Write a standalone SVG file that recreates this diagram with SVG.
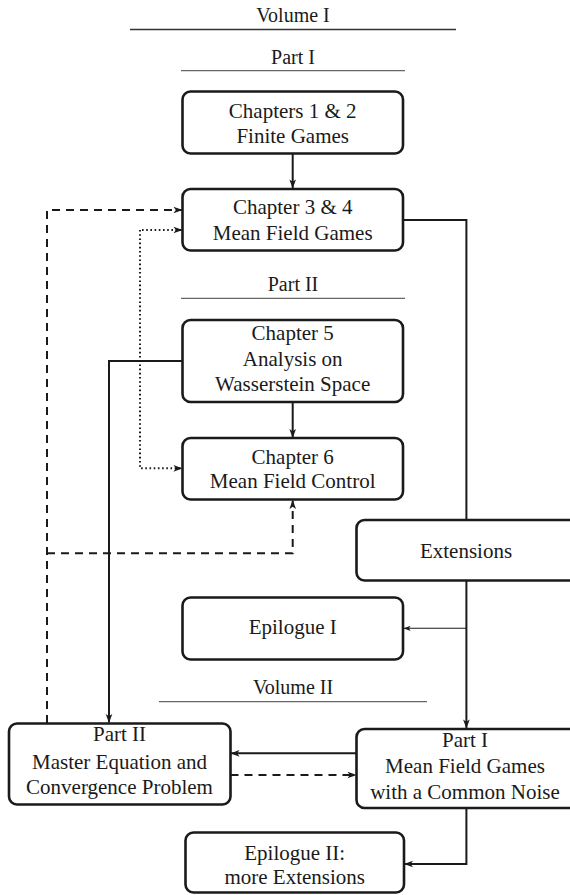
<svg xmlns="http://www.w3.org/2000/svg" width="570" height="895" viewBox="0 0 570 895">
<style>
  text { font-family: 'Liberation Serif', 'DejaVu Serif', serif; font-size: 21px; fill: #1a1a1a; text-anchor: middle; }
  .hdr { font-size: 20px; }
  .box { fill: #fff; stroke: #1a1a1a; stroke-width: 2.6; }
  .c { fill: none; stroke: #1a1a1a; stroke-width: 2; }
  .thin { fill: none; stroke: #1a1a1a; stroke-width: 1.1; }
  .dash { stroke-dasharray: 8 6; }
  .dot { stroke-dasharray: 1.6 2.6; }
  .rule { stroke: #333; stroke-width: 1.3; }
  .rule2 { stroke: #666; stroke-width: 1.3; }
</style>
<defs>
  <marker id="ah" viewBox="0 0 10 8" refX="9.5" refY="4" markerWidth="9" markerHeight="7.2" markerUnits="userSpaceOnUse" orient="auto">
    <path d="M0,0.3 L10,4 L0,7.7 L2.6,4 Z" fill="#1a1a1a"/>
  </marker>
  <marker id="ahs" viewBox="0 0 10 8" refX="9.5" refY="4" markerWidth="7" markerHeight="5.6" markerUnits="userSpaceOnUse" orient="auto">
    <path d="M0,0.3 L10,4 L0,7.7 L2.6,4 Z" fill="#1a1a1a"/>
  </marker>
</defs>

<g id="headers" font-family="Liberation Serif, serif">
  <text class="hdr" x="293" y="22">Volume I</text>
  <line class="rule" x1="130" y1="29.5" x2="456" y2="29.5"/>
  <text class="hdr" x="293" y="63.5">Part I</text>
  <line class="rule2" x1="181" y1="70.7" x2="405" y2="70.7"/>
  <text class="hdr" x="293" y="291">Part II</text>
  <line class="rule2" x1="181" y1="298.3" x2="405" y2="298.3"/>
  <text class="hdr" x="293" y="693.5">Volume II</text>
  <line class="rule2" x1="159" y1="701.7" x2="427" y2="701.7"/>
</g>

<g id="connectors">
  <line class="c" x1="292.7" y1="154" x2="292.7" y2="188" marker-end="url(#ah)"/>
  <polyline class="c" points="403,220 466.4,220 466.4,520"/>
  <line class="c" x1="466.4" y1="580.5" x2="466.4" y2="728" marker-end="url(#ah)"/>
  <line class="thin" x1="466.4" y1="628.3" x2="404" y2="628.3" marker-end="url(#ahs)"/>
  <line class="c" x1="292.7" y1="403" x2="292.7" y2="437.5" marker-end="url(#ah)"/>
  <polyline class="c" points="182.5,361 109,361 109,722.5" marker-end="url(#ah)"/>
  <polyline class="c dash" points="47,723 47,210 182,210" marker-end="url(#ah)"/>
  <polyline class="c dash" points="47,553.3 292.7,553.3 292.7,500.5" marker-end="url(#ah)"/>
  <polyline class="c dot" points="140,230 140,468.3 182,468.3" marker-end="url(#ah)"/>
  <line class="c dot" x1="142" y1="230" x2="182" y2="230" marker-end="url(#ah)"/>
  <line class="c" x1="356.5" y1="753.3" x2="231" y2="753.3" marker-end="url(#ah)"/>
  <line class="c dash" x1="230.5" y1="775" x2="356" y2="775" marker-end="url(#ah)"/>
  <polyline class="c" points="466.4,808.5 466.4,864 404.5,864" marker-end="url(#ah)"/>
</g>

<g id="ch12">
  <rect class="box" x="182.5" y="91.5" width="220.5" height="62" rx="8"/>
  <text x="292.7" y="117.5">Chapters 1 &amp; 2</text>
  <text x="292.7" y="143">Finite Games</text>
</g>
<g id="ch34">
  <rect class="box" x="182.5" y="189" width="220.5" height="61.5" rx="8"/>
  <text x="292.7" y="214">Chapter 3 &amp; 4</text>
  <text x="292.7" y="240">Mean Field Games</text>
</g>
<g id="ch5">
  <rect class="box" x="182.5" y="320" width="220.5" height="82" rx="8"/>
  <text x="292.7" y="340">Chapter 5</text>
  <text x="292.7" y="365.7">Analysis on</text>
  <text x="292.7" y="390.5">Wasserstein Space</text>
</g>
<g id="ch6">
  <rect class="box" x="182.5" y="438" width="220.5" height="61.5" rx="8"/>
  <text x="292.7" y="463.5">Chapter 6</text>
  <text x="292.7" y="487.5">Mean Field Control</text>
</g>
<g id="extensions">
  <rect class="box" x="356.5" y="520" width="232" height="60.5" rx="8"/>
  <text x="466" y="558">Extensions</text>
</g>
<g id="epilogue1">
  <rect class="box" x="182.5" y="597.5" width="220.5" height="62" rx="8"/>
  <text x="292.7" y="633.5">Epilogue I</text>
</g>
<g id="v2part2">
  <rect class="box" x="9" y="723.5" width="221.5" height="81" rx="8"/>
  <text x="119.5" y="740.7">Part II</text>
  <text x="119.5" y="769.3">Master Equation and</text>
  <text x="119.5" y="794">Convergence Problem</text>
</g>
<g id="v2part1">
  <rect class="box" x="356.5" y="729" width="232" height="79" rx="8"/>
  <text x="465" y="746.7">Part I</text>
  <text x="465" y="773.3">Mean Field Games</text>
  <text x="465" y="799.3">with a Common Noise</text>
</g>
<g id="epilogue2">
  <rect class="box" x="185.5" y="832.5" width="218.5" height="60" rx="8"/>
  <text x="294.7" y="860">Epilogue II:</text>
  <text x="294.7" y="883.5">more Extensions</text>
</g>
</svg>
